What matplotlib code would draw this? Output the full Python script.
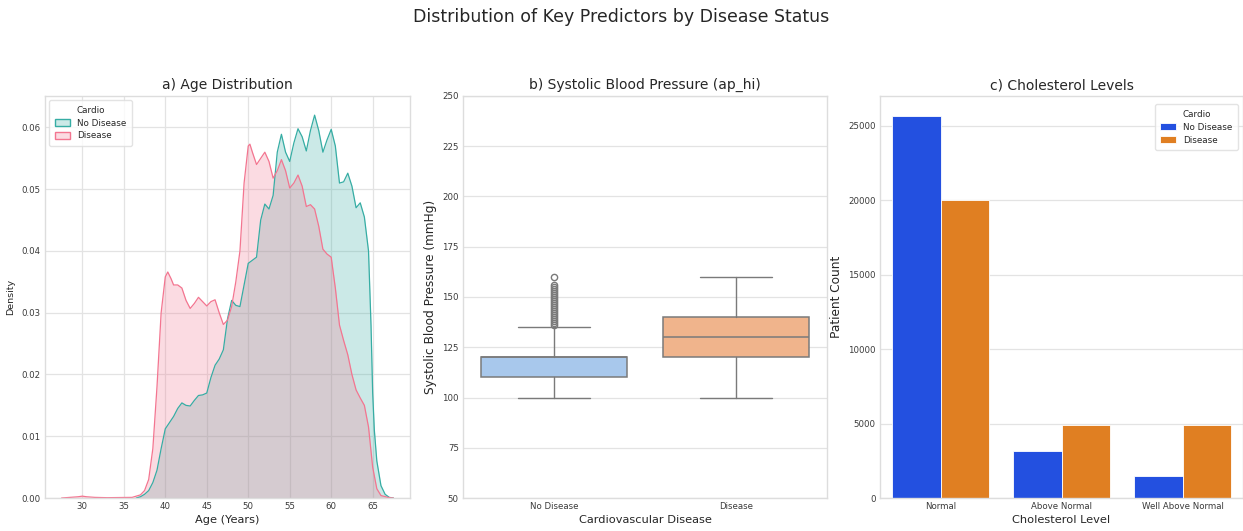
import matplotlib
matplotlib.use("Agg")
import matplotlib.pyplot as plt
import seaborn as sns
from matplotlib.patches import Patch

sns.set_theme(style="whitegrid")
plt.rcParams['font.family'] = ['DejaVu Sans']

# ---------------- data ----------------
# a) Age density (read from picture)
age_nd = [36.5, 37, 37.5, 38, 38.5, 39, 39.5, 40, 40.5, 41, 41.5, 42, 42.5, 43, 43.5, 44, 44.5, 45,
          45.5, 46, 46.5, 47, 47.5, 48, 48.5, 49, 49.5, 50, 50.5, 51, 51.5, 52, 52.5, 53, 53.5, 54,
          54.5, 55, 55.5, 56, 56.5, 57, 57.5, 58, 58.5, 59, 59.5, 60, 60.5, 61, 61.5, 62, 62.5, 63,
          63.5, 64, 64.5, 64.8, 65, 65.2, 65.5, 66, 66.5, 67, 67.5]
dens_nd = [0.0, 0.0002, 0.0006, 0.0012, 0.0025, 0.0045, 0.0080, 0.0112, 0.0122, 0.0132, 0.0145,
           0.0154, 0.0150, 0.0149, 0.0158, 0.0166, 0.0167, 0.0170, 0.0195, 0.0215, 0.0225, 0.0240,
           0.0290, 0.0320, 0.0312, 0.0310, 0.0345, 0.0380, 0.0385, 0.0390, 0.0450, 0.0476, 0.0468,
           0.0490, 0.0560, 0.0589, 0.0560, 0.0545, 0.0575, 0.0598, 0.0585, 0.0562, 0.0595, 0.0620,
           0.0595, 0.0560, 0.0580, 0.0597, 0.0570, 0.0510, 0.0512, 0.0526, 0.0505, 0.0470, 0.0478,
           0.0455, 0.0400, 0.0280, 0.0170, 0.0110, 0.0060, 0.0020, 0.0006, 0.0001, 0.0]

age_d = [27.5, 28.5, 29.5, 30, 30.5, 31.5, 33, 36, 37, 37.5, 38, 38.5, 39, 39.5, 40, 40.3, 40.7,
         41, 41.5, 42, 42.5, 43, 43.5, 44, 44.5, 45, 45.5, 46, 46.5, 47, 47.5, 48, 48.5, 49, 49.5,
         50, 50.2, 50.5, 51, 51.5, 52, 52.5, 53, 53.5, 54, 54.5, 55, 55.5, 56, 56.5, 57, 57.5, 58,
         58.5, 59, 59.5, 60, 60.5, 61, 61.5, 62, 62.5, 63, 63.5, 64, 64.5, 65, 65.5, 66, 67, 67.5]
dens_d = [0.0, 0.0001, 0.0002, 0.0003, 0.0002, 0.0001, 0.00005, 0.0001, 0.0005, 0.0012, 0.0030,
          0.0080, 0.0180, 0.0300, 0.0358, 0.0366, 0.0355, 0.0345, 0.0345, 0.0340, 0.0320, 0.0307,
          0.0315, 0.0325, 0.0318, 0.0311, 0.0318, 0.0321, 0.0300, 0.0281, 0.0288, 0.0310, 0.0350,
          0.0400, 0.0510, 0.0570, 0.0573, 0.0560, 0.0540, 0.0550, 0.0560, 0.0545, 0.0518, 0.0530,
          0.0548, 0.0530, 0.0502, 0.0510, 0.0523, 0.0505, 0.0472, 0.0475, 0.0468, 0.0440, 0.0403,
          0.0395, 0.0390, 0.0340, 0.0280, 0.0255, 0.0232, 0.0200, 0.0175, 0.0162, 0.0150, 0.0115,
          0.0050, 0.0015, 0.0004, 0.00005, 0.0]

# b) Systolic BP box stats
bp_groups = ["No Disease", "Disease"]
bp_whislo = [100, 100]
bp_q1 = [110, 120]
bp_med = [120, 130]
bp_q3 = [120, 140]
bp_whishi = [135, 160]
bp_fliers_nd = [136, 137, 138, 139, 140, 141, 142, 143, 144, 145, 146, 147, 148, 149, 150,
                151, 152, 153, 154, 155, 156, 160]
bp_fliers_d = []

# c) Cholesterol counts
chol_levels = ["Normal", "Above Normal", "Well Above Normal"]
chol_no_disease = [25650, 3140, 1480]
chol_disease = [20000, 4930, 4930]

# ---------------- figure ----------------
W, H = 1243, 531
fig = plt.figure(figsize=(W / 100, H / 100), dpi=100)

def box(l, r, t, b):
    return [l / W, 1 - b / H, (r - l) / W, (b - t) / H]

ax1 = fig.add_axes(box(45, 410, 96, 498))
ax2 = fig.add_axes(box(463, 827, 96, 498))
ax3 = fig.add_axes(box(880, 1243, 96, 498))

grid_c = "#e3e3e3"
spine_c = "#dddddd"
for ax in (ax1, ax2, ax3):
    for s in ax.spines.values():
        s.set_color(spine_c)
        s.set_linewidth(1.0)
    ax.tick_params(labelsize=6.2, colors="#3a3a3a", pad=3, length=0)
    ax.grid(color=grid_c, linewidth=0.9)

# a) KDE
teal = "#36ada4"
pink = "#f37590"
ax1.fill_between(age_nd, dens_nd, color=teal, alpha=0.26, linewidth=0)
ax1.plot(age_nd, dens_nd, color=teal, lw=0.9)
ax1.fill_between(age_d, dens_d, color=pink, alpha=0.26, linewidth=0)
ax1.plot(age_d, dens_d, color=pink, lw=0.9)
ax1.set_xlim(25.5, 69.5)
ax1.set_ylim(0, 0.0651)
ax1.set_xticks([30, 35, 40, 45, 50, 55, 60, 65])
ax1.set_yticks([0.0, 0.01, 0.02, 0.03, 0.04, 0.05, 0.06])
ax1.yaxis.set_major_formatter(matplotlib.ticker.FormatStrFormatter('%.2f'))
ax1.set_title("a) Age Distribution", fontsize=10, pad=5)
ax1.set_xlabel("Age (Years)", fontsize=8.2, labelpad=2.5)
ax1.set_ylabel("Density", fontsize=6.8, labelpad=5)
h1 = [Patch(facecolor=(0.21, 0.68, 0.64, 0.26), edgecolor=teal, label="No Disease"),
      Patch(facecolor=(0.95, 0.46, 0.56, 0.26), edgecolor=pink, label="Disease")]
leg = ax1.legend(handles=h1, title="Cardio", loc="upper left", fontsize=6.3, title_fontsize=6.3,
                 frameon=True, borderpad=0.6, labelspacing=0.45, handlelength=1.8)
leg.get_frame().set_edgecolor("#dddddd")

# b) boxplot
stats = []
fl = [bp_fliers_nd, bp_fliers_d]
for i, g in enumerate(bp_groups):
    stats.append(dict(label=g, whislo=bp_whislo[i], q1=bp_q1[i], med=bp_med[i],
                      q3=bp_q3[i], whishi=bp_whishi[i], fliers=fl[i]))
box_cols = ["#a8c8ec", "#f0b48c"]
lc = "#7a7a7a"
bp = ax2.bxp(stats, positions=[0, 1], widths=0.8, patch_artist=True, capwidths=0.4,
             boxprops=dict(edgecolor=lc, linewidth=1.1),
             medianprops=dict(color=lc, linewidth=1.1),
             whiskerprops=dict(color=lc, linewidth=1.0),
             capprops=dict(color=lc, linewidth=1.0),
             flierprops=dict(marker="o", markerfacecolor="none", markeredgecolor=lc,
                             markersize=4.5, markeredgewidth=1.0))
for p, c in zip(bp["boxes"], box_cols):
    p.set_facecolor(c)
ax2.set_xlim(-0.5, 1.5)
ax2.set_ylim(50, 250)
ax2.set_yticks([50, 75, 100, 125, 150, 175, 200, 225, 250])
ax2.xaxis.grid(False)
ax2.set_xticks([0, 1])
ax2.set_xticklabels(bp_groups)
ax2.set_title("b) Systolic Blood Pressure (ap_hi)", fontsize=10, pad=5)
ax2.set_xlabel("Cardiovascular Disease", fontsize=8.2, labelpad=2.5)
ax2.set_ylabel("Systolic Blood Pressure (mmHg)", fontsize=8.7, labelpad=4)

# c) bars
blue = "#2350e0"
orange = "#e07f22"
xs = list(range(len(chol_levels)))
bw = 0.4
ax3.bar([x - bw / 2 for x in xs], chol_no_disease, width=bw, color=blue, edgecolor="white",
        linewidth=0.6, label="No Disease")
ax3.bar([x + bw / 2 for x in xs], chol_disease, width=bw, color=orange, edgecolor="white",
        linewidth=0.6, label="Disease")
ax3.set_xlim(-0.5, 2.5)
ax3.set_ylim(0, 26990)
ax3.set_yticks([0, 5000, 10000, 15000, 20000, 25000])
ax3.xaxis.grid(False)
ax3.set_xticks(xs)
ax3.set_xticklabels(chol_levels)
ax3.set_title("c) Cholesterol Levels", fontsize=10, pad=5)
ax3.set_xlabel("Cholesterol Level", fontsize=8.2, labelpad=2.5)
ax3.set_ylabel("Patient Count", fontsize=8.7, labelpad=4)
leg3 = ax3.legend(title="Cardio", loc="upper right", fontsize=6.3, title_fontsize=6.3,
                  frameon=True, borderpad=0.6, labelspacing=0.45, handlelength=1.8,
                  bbox_to_anchor=(0.997, 0.99))
leg3.get_frame().set_edgecolor("#dddddd")

fig.suptitle("Distribution of Key Predictors by Disease Status", fontsize=12.5, y=0.985)

fig.savefig("out.png", dpi=100)
